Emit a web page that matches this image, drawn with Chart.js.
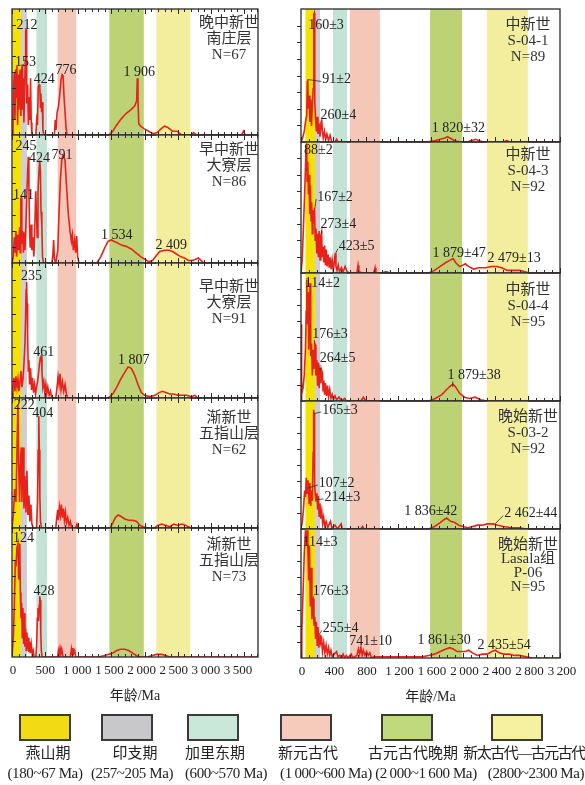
<!DOCTYPE html>
<html lang="zh">
<head>
<meta charset="utf-8">
<title>碎屑锆石年龄谱</title>
<script src="https://cdn.jsdelivr.net/npm/chart.js@4.4.1/dist/chart.umd.min.js"></script>
<style>
  html, body { margin: 0; padding: 0; background: #fff; }
  #fig { position: relative; width: 585px; height: 785px; overflow: hidden; }
  #fig canvas { position: absolute; }
  .lg-box { position: absolute; width: 52px; height: 27px; box-sizing: border-box; border: 2px solid #3a3a3a; }
  .lg-txt { position: absolute; transform: translateX(-50%); white-space: nowrap; color: #222;
            font-family: 'Liberation Serif', 'Noto Sans CJK SC', serif; font-size: 15px; line-height: 18px; }
</style>
</head>
<body>
<div id="fig"></div>
<script>
// ── DATA: age (Ma) / relative probability (0-100 of panel height) ──
// left column
const ageL1 = [0,15,25,35,45,55,65,75,85,95, 105,120,135,145,153,160,170,180,190,200, 206,212,218,226,236,246,258,270,280,290, 300,360,372,384,396,408,420,428,436,446, 456,466,480,640,652,664,680,700,720,740, 755,770,785,800,815,830,1460,1520,1580,1650, 1720,1790,1850,1880,1890,1900,1912,1940,1990,2060, 2130,2190,2250,2300,2350,2420,2490,2560,2700,2740, 2780,3460,3490,3520,3700];
const denL1 = [0,3,40,50,12,52,30,55,8,48, 20,52,15,50,56,20,45,10,35,60, 82,84,60,25,40,8,30,12,45,10, 0,0,12,8,38,40,39,22,33,18, 26,4,0,0,12,4,18,22,32,44, 48,47,30,18,6,0,0,3,8,13, 17,20,23,27,45,28,9,7,5,3, 1,2,5,7,6,3,3,0,0,2, 0,0,3,0,0];

const ageL2 = [0,20,35,45,60,70,85,100,115,125, 133,141,148,160,172,185,195,210,225,235, 245,255,265,275,290,300,315,330,345,358, 368,380,392,405,418,428,438,450,460,475, 600,615,628,640,660,690,710,730,750,765, 780,800,820,840,855,875,895,910,925,945, 960,975,990,1010,1280,1340,1400,1450,1500,1534, 1580,1650,1720,1800,1870,1940,2000,2060,2120,2180, 2230,2300,2370,2420,2480,2540,2600,2660,2720,2770, 2810,2850,2890,3700];
const denL2 = [0,5,20,8,25,5,22,10,28,8, 50,51,15,25,8,24,10,30,55,70, 83,60,25,12,30,10,20,5,30,56, 40,20,55,70,80,72,40,30,5,0, 0,5,18,3,0,10,40,65,80,84, 84,80,62,45,35,25,17,22,10,18, 8,21,5,0,0,5,12,17,18,17, 16,14,13,11,8,5,3,1,2,6, 9,10,10,9,7,5,4,2,2,3, 4,2,0,0];

const ageL3 = [0,15,30,45,60,75,90,105,120,135, 150,165,180,195,205,212,220,228,236,245, 255,265,280,295,310,325,340,355,370,385, 400,415,428,440,452,465,480,495,510,525, 540,560,580,600,660,680,695,710,725,740, 760,780,800,820,840,1450,1520,1580,1640,1700, 1750,1800,1850,1900,1950,2000,2080,2160,2220,2270, 2320,2380,2440,2500,2560,2640,2700,2760,2800,3700];
const denL3 = [0,8,15,5,16,8,14,5,12,20, 8,14,25,40,60,80,86,70,45,20, 28,10,22,6,15,4,10,3,8,12, 18,26,30,31,20,8,12,4,10,3, 8,2,5,0,0,8,16,10,18,6, 12,5,10,3,0,0,3,8,14,19, 23,22,17,10,4,2,1,2,4,5, 4,3,3,2,2,2,1,2,0,0];

const ageL4 = [0,20,40,60,75,90,100,115,130,140, 150,160,170,180,195,210,225,240,255,270, 285,300,320,370,385,395,404,412,420,430, 445,660,675,690,700,715,730,745,760,775, 790,805,820,840,860,880,900,960,980,1000, 1480,1520,1560,1600,1640,1700,1760,1820,1880,1930, 1980,2050,2150,2200,2260,2320,2380,2440,2500,2560, 2620,2700,3700];
const denL4 = [0,10,30,20,60,95,50,20,55,62, 20,58,62,15,40,12,44,10,25,5, 18,3,0,0,20,60,86,60,25,5, 0,0,8,14,6,16,10,18,8,15, 6,12,4,8,2,5,0,0,3,0, 0,4,8,10,9,7,6,6,5,2, 1,0,0,2,3,2,1,3,2,3, 2,0,0];

const ageL5 = [0,20,35,50,60,75,90,100,110,118, 126,135,145,155,165,175,185,195,205,215, 225,235,245,255,265,275,290,305,320,335, 360,372,382,392,400,410,418,426,434,442, 455,690,700,712,725,738,750,765,780,880, 895,905,918,930,945,960,1300,1380,1450,1520, 1580,1640,1700,1760,1820,1880,1920,2050,2100,2180, 2260,2330,2380,3700];
const denL5 = [0,15,40,75,70,85,88,60,80,88, 50,30,42,15,38,10,34,8,22,5, 19,6,15,4,12,3,10,2,5,0, 0,10,30,38,28,40,47,44,20,5, 0,0,5,2,7,3,6,1,0,0, 6,2,7,3,5,0,0,1,2,3, 5,6,6,5,3,1,0,0,1,2, 2,1,0,0];

// right column
const ageR1 = [0,20,40,55,70,78,84,90,100,110, 120,130,140,150,158,164,170,180,190,200, 210,222,235,248,256,264,275,290,305,320, 340,360,380,420,440,460,1550,1650,1720,1780, 1810,1840,1900,1960,2050,2100,2160,2200,2260,2500, 2540,2580,3200];
const denR1 = [0,3,8,15,20,45,47,25,35,15, 32,12,28,40,96,97,30,18,8,19, 6,14,4,15,17,8,3,8,2,6, 1,5,0,0,2,0,0,1,2,3, 4,3,1,0,0,1,2,1,0,0, 1,0,0];

const ageR2 = [0,15,30,45,55,62,70,76,84,92, 100,108,116,124,132,140,148,158,167,175, 185,195,205,215,225,235,245,255,262,272, 282,292,302,312,322,335,348,360,372,385, 398,410,423,432,445,460,475,500,520,545, 570,600,690,705,715,760,900,915,925,1000, 1050,1100,1580,1650,1720,1790,1850,1880,1910,1960, 2000,2030,2070,2130,2200,2280,2350,2420,2480,2550, 2620,2700,2770,2820,3200];
const denR2 = [0,10,35,60,80,95,99,70,85,60, 75,45,67,40,54,30,48,38,50,25, 34,15,30,12,32,10,28,31,12,20, 8,21,6,18,5,14,4,12,3,10, 2,8,15,5,2,6,1,4,1,5, 1,0,0,6,1,0,0,4,0,0, 1,0,0,2,5,8,10,11,8,5, 6,7,5,3,4,4,5,5,4,2, 2,2,1,0,0];

const ageR3 = [0,5,10,25,40,55,65,72,80,88, 96,104,112,120,130,140,150,160,170,176, 184,195,205,215,225,235,245,255,264,272, 282,292,302,315,328,340,355,370,385,400, 420,440,470,500,540,560,740,770,800,1580, 1660,1740,1800,1850,1880,1910,1960,2020,2080,2150, 2220,2300,3200];
const denR3 = [0,60,5,10,20,40,70,95,60,85, 40,70,92,35,45,20,40,25,45,44, 20,32,12,30,10,26,14,24,22,8, 16,5,14,4,12,3,9,2,5,1, 4,1,3,0,2,0,0,3,0,0, 2,5,9,12,13,11,6,3,2,3, 1,0,0];

const ageR4 = [0,15,30,45,55,65,75,85,92,100, 110,120,130,140,150,156,162,168,176,186, 196,206,214,224,234,244,256,268,280,295, 310,330,350,365,380,420,450,495,510,740, 760,780,1580,1650,1720,1780,1810,1850,1900,1950, 2000,2060,2120,2180,2240,2300,2370,2430,2500,2600, 2700,2780,3200];
const denR4 = [0,5,15,30,25,40,28,38,34,20, 36,18,30,22,60,93,90,35,27,22, 28,15,26,10,20,8,14,4,9,2, 6,1,4,6,1,3,0,4,0,0, 2,0,0,2,5,8,8,6,5,3, 2,1,2,3,3,4,4,3,2,1, 1,0,0];

const ageR5 = [0,10,25,40,55,65,75,85,95,105, 115,125,135,145,152,160,170,180,190,200, 210,220,235,245,255,265,280,295,310,325, 340,355,370,385,410,440,455,480,500,520, 540,560,580,620,640,690,710,725,740,755, 770,790,810,830,850,870,900,1200,1500,1580, 1650,1720,1790,1840,1880,1930,1980,2030,2070,2120, 2180,2240,2300,2360,2400,2450,2500,2570,2640,2700, 2780,2860,3200];
const denR5 = [0,20,50,80,99,90,99,85,60,87, 40,70,30,45,46,25,32,15,28,10, 24,8,18,12,14,5,12,4,10,3, 8,2,6,1,3,5,1,2,0,3, 0,2,0,3,0,2,7,3,8,2, 6,2,5,2,4,0,1,1,1,2, 3,5,7,8,7,5,5,5,6,4, 2,3,3,5,6,4,3,3,2,2, 1,0,0];

// tick labels printed under each column
const tickL = [0, 500, 1000, 1500, 2000, 2500, 3000, 3500];
const tickR = [0, 400, 800, 1200, 1600, 2000, 2400, 2800, 3200];

// peak labels: [text, age, level] or [text, age, level, peakAge, peakLevel] (with leader)
const pkL1 = [['212', 228, 87], ['153', 202, 58], ['424', 488, 44], ['776', 813, 51], ['1 906', 1918, 50]];
const pkL2 = [['245', 213, 91], ['424', 413, 82], ['791', 753, 84], ['141', 173, 53], ['1 534', 1578, 22], ['2 409', 2403, 14]];
const pkL3 = [['235', 293, 90], ['461', 478, 34], ['1 807', 1838, 28]];
const pkL4 = [['222', 183, 94], ['404', 463, 88]];
const pkL5 = [['124', 173, 92], ['428', 483, 51]];
const pkR1 = [['160±3', 309, 88], ['91±2', 441, 47, 82, 47], ['260±4', 461, 20], ['1 820±32', 1945, 10]];
const pkR2 = [['88±2', 214, 94], ['167±2', 420, 58, 173, 50], ['273±4', 461, 37, 255, 30], ['423±5', 688, 20, 428, 15],
              ['1 879±47', 1953, 15], ['2 479±13', 2633, 11]];
const pkR3 = [['114±2', 264, 92], ['176±3', 358, 52, 165, 45], ['264±5', 453, 33, 235, 24], ['1 879±38', 2138, 20, 1875, 11]];
const pkR4 = [['165±3', 482, 93, 152, 90], ['107±2', 441, 36, 90, 32], ['214±3', 511, 25, 194, 23],
              ['1 836±42', 1603, 14, 1800, 8], ['2 462±44', 2839, 12, 2398, 4]];
const pkR5 = [['114±3', 235, 90], ['176±3', 367, 52], ['255±4', 490, 23, 222, 18], ['741±10', 861, 13, 730, 7.5],
              ['1 861±30', 1768, 14], ['2 435±54', 2509, 10]];

// panel captions
const infoL = [['晚中新世', '南庄层', 'N=67'], ['早中新世', '大寮层', 'N=86'], ['早中新世', '大寮层', 'N=91'],
               ['渐新世', '五指山层', 'N=62'], ['渐新世', '五指山层', 'N=73']];
const infoR = [['中新世', 'S-04-1', 'N=89'], ['中新世', 'S-04-3', 'N=92'], ['中新世', 'S-04-4', 'N=95'],
               ['晚始新世', 'S-03-2', 'N=92'], ['晚始新世', 'Lasala组', 'P-06', 'N=95']];

// tectonic period bands [from, to] in Ma as drawn in each column
const bandL = [[10, 135], [135, 225], [368, 528], [688, 968], [1468, 1988], [2178, 2688]];
const bandR = [[55, 173], [173, 235], [395, 568], [605, 975], [1595, 1990], [2296, 2802]];

// legend
const legNames = ['燕山期', '印支期', '加里东期', '新元古代', '古元古代晚期', '新太古代—古元古代'];
const legRanges = ['(180~67 Ma)', '(257~205 Ma)', '(600~570 Ma)', '(1\u2009000~600 Ma)', '(2\u2009000~1\u2009600 Ma)', '(2800~2300 Ma)'];

// ── STYLE ──
const RED = '#e6221b';
const SERIF = "'Liberation Serif', 'Noto Sans CJK SC', serif";
const bandColors = ['#f5e200', '#cfcfd3', '#c4e2d5', '#f5c7b8', '#bcd275', '#f3ed9e'];
const legColors = ['#f2da14', '#c8c8ca', '#c9e8d9', '#f7cbbb', '#bfd97c', '#f6f1a0'];

const fig = document.getElementById('fig');

function fmtAge(v) {
    return v >= 1000 ? String(v).replace(/(\d)(\d{3})$/, '$1\u2009$2') : String(v);
}

// ── PLUGINS ──
const bandPlugin = {
    id: 'bands',
    beforeDatasetsDraw(chart, args, o) {
        const { ctx, chartArea: a, scales: { x } } = chart;
        ctx.save();
        o.list.forEach((b, i) => {
            const x0 = x.getPixelForValue(b[0]), x1 = x.getPixelForValue(b[1]);
            ctx.fillStyle = bandColors[i];
            ctx.fillRect(x0, a.top, x1 - x0, a.bottom - a.top);
        });
        ctx.restore();
    }
};

const decoPlugin = {
    id: 'deco',
    afterDatasetsDraw(chart, args, o) {
        const { ctx, chartArea: a, scales: { x, y } } = chart;
        ctx.save();
        ctx.strokeStyle = '#2a2a2a';
        ctx.lineWidth = 1;
        const seg = (x0, y0, x1, y1) => { ctx.beginPath(); ctx.moveTo(x0, y0); ctx.lineTo(x1, y1); ctx.stroke(); };

        // ticks on the age axis
        for (let v = 0; v <= x.max; v += o.minor) {
            const px = Math.round(x.getPixelForValue(v)) + 0.5;
            const len = v % o.major === 0 ? 5 : 3;
            seg(px, a.bottom, px, a.bottom - len);
            if (o.topTicks) seg(px, a.top, px, a.top + len);
        }
        // ticks on the probability axis
        for (let v = 12.5; v < 100; v += 12.5) {
            const py = Math.round(y.getPixelForValue(v)) + 0.5;
            if (o.yOut) seg(a.left - 4, py, a.left, py);
            else seg(a.left, py, a.left + 4, py);
        }
        // frame
        ctx.lineWidth = 1.3;
        ctx.strokeRect(a.left, a.top, a.right - a.left, a.bottom - a.top);

        // peak labels
        ctx.font = '14px ' + SERIF;
        ctx.fillStyle = '#222';
        ctx.textAlign = 'center';
        ctx.textBaseline = 'middle';
        ctx.lineWidth = 0.8;
        o.peaks.forEach(p => {
            const tx = x.getPixelForValue(p[1]), ty = y.getPixelForValue(p[2]);
            ctx.fillText(p[0], tx, ty);
            if (p.length > 3) {
                const w = ctx.measureText(p[0]).width;
                const px = x.getPixelForValue(p[3]), py = y.getPixelForValue(p[4]);
                let ex = px, ey = ty + 6;
                if (px < tx - w / 2) { ex = tx - w / 2 - 1; ey = ty + 2; }
                else if (px > tx + w / 2) { ex = tx + w / 2 + 1; ey = ty + 2; }
                seg(px, py, ex, ey);
            }
        });

        // caption block at top right
        ctx.font = '15px ' + SERIF;
        ctx.fillStyle = '#333';
        o.info.forEach((s, i) => ctx.fillText(s, a.right - o.infoDx, a.top + o.infoTop + i * o.infoStep));
        ctx.restore();
    }
};

// ── PANELS ──
function makePanel(col, i, ages, dens, peaks, info, infoTop, infoStep) {
    const M = 26, V = 4;
    const last = i === 4;
    const AX = last ? 48 : 0;
    const top = col.tops[i], bottom = col.tops[i + 1];
    const w = col.right - col.left, h = bottom - top;

    const cv = document.createElement('canvas');
    cv.width = w + 2 * M;
    cv.height = h + 2 * V + AX;
    cv.style.left = (col.left - M) + 'px';
    cv.style.top = (top - V) + 'px';
    fig.appendChild(cv);

    return new Chart(cv, {
        type: 'line',
        data: {
            datasets: [{
                data: ages.map((a, k) => ({ x: a, y: dens[k] })),
                xAxisID: 'x',
                yAxisID: 'y',
                borderColor: RED,
                borderWidth: 1.6,
                pointRadius: 0,
                tension: 0,
                fill: false
            }]
        },
        options: {
            responsive: false,
            animation: false,
            devicePixelRatio: 1,
            layout: { padding: { left: M, right: M, top: V, bottom: V } },
            plugins: {
                legend: { display: false },
                tooltip: { enabled: false },
                bands: { list: col.bands },
                deco: {
                    peaks, info, infoTop, infoStep,
                    infoDx: col.infoDx,
                    minor: 100, major: col.step,
                    topTicks: col.topTicks, yOut: col.yOut
                }
            },
            scales: {
                x: { type: 'linear', min: 0, max: col.xmax, display: false },
                y: { type: 'linear', min: 0, max: 100, display: false },
                // tick labels as printed under the column
                x2: {
                    type: 'linear', axis: 'x', position: 'bottom', display: last,
                    min: col.lab[0], max: col.lab[1],
                    grid: { display: false, drawTicks: false },
                    border: { display: false },
                    afterBuildTicks: s => { s.ticks = col.ticks.map(v => ({ value: v })); },
                    ticks: {
                        autoSkip: false, maxRotation: 0,
                        padding: 6, color: '#222', font: { family: SERIF, size: 13 },
                        callback: v => fmtAge(v)
                    },
                    title: {
                        display: true, text: '年龄/Ma', color: '#222',
                        font: { family: SERIF, size: 14 }, padding: { top: 0, bottom: 0 }
                    },
                    afterFit: s => { s.height = AX; }
                }
            }
        },
        plugins: [bandPlugin, decoPlugin]
    });
}

const leftCol = { left: 12, right: 258, tops: [9, 135, 263, 398, 528, 657], xmax: 3710, lab: [-16, 3811],
                  ticks: tickL, step: 500, bands: bandL, infoDx: 29, topTicks: true, yOut: false };
const rightCol = { left: 301, right: 560, tops: [9, 142, 273, 401, 529, 658], xmax: 3200, lab: [-12, 3175],
                   ticks: tickR, step: 400, bands: bandR, infoDx: 32, topTicks: false, yOut: true };

const ageLs = [ageL1, ageL2, ageL3, ageL4, ageL5], denLs = [denL1, denL2, denL3, denL4, denL5];
const ageRs = [ageR1, ageR2, ageR3, ageR4, ageR5], denRs = [denR1, denR2, denR3, denR4, denR5];
const pkLs = [pkL1, pkL2, pkL3, pkL4, pkL5], pkRs = [pkR1, pkR2, pkR3, pkR4, pkR5];
const infoTopL = [14, 15, 24, 20, 17], infoTopR = [16, 13, 17, 16, 16];

for (let i = 0; i < 5; i++) {
    makePanel(leftCol, i, ageLs[i], denLs[i], pkLs[i], infoL[i], infoTopL[i], 16);
    makePanel(rightCol, i, ageRs[i], denRs[i], pkRs[i], infoR[i], infoTopR[i], i === 4 ? 14 : 16);
}

// ── LEGEND ──
const boxX = [45, 127, 213, 306, 407, 517];
const nameX = [48, 135, 215, 308, 413, 524];
const rangeX = [45, 132, 226, 326, 426, 536];
legNames.forEach((n, i) => {
    const b = document.createElement('div');
    b.className = 'lg-box';
    b.style.left = (boxX[i] - 26) + 'px';
    b.style.top = '714px';
    b.style.background = legColors[i];
    fig.appendChild(b);

    const t = document.createElement('div');
    t.className = 'lg-txt';
    t.style.left = nameX[i] + 'px';
    t.style.top = '744px';
    t.textContent = n;
    if (i === 5) t.style.letterSpacing = '-1.5px';
    fig.appendChild(t);

    const r = document.createElement('div');
    r.className = 'lg-txt';
    r.style.left = rangeX[i] + 'px';
    r.style.top = '764px';
    r.style.letterSpacing = '-0.4px';
    r.textContent = legRanges[i];
    fig.appendChild(r);
});
</script>
</body>
</html>
